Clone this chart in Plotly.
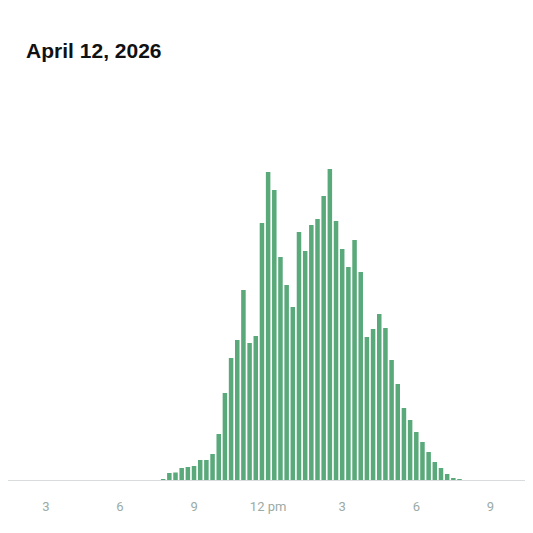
import pandas as pd
import plotly.graph_objects as go

# quarter-hour bins starting 7:45 am
start = "2026-04-12 07:45"
counts = [1, 7, 7.5, 12, 13, 14, 20, 20, 26, 46, 87, 122, 140, 190, 137, 144,
          257, 308, 290, 223, 195, 173, 248, 229, 255, 261, 284, 311, 259, 231,
          213, 240, 208, 143, 151, 166, 152, 120, 96, 72, 60, 48, 38, 28, 18,
          12, 6, 2, 0.5]
times = pd.date_range(start, periods=len(counts), freq="15min")

tick_vals = pd.to_datetime(["2026-04-12 03:00", "2026-04-12 06:00", "2026-04-12 09:00",
                            "2026-04-12 12:00", "2026-04-12 15:00", "2026-04-12 18:00",
                            "2026-04-12 21:00"])
tick_text = ["3", "6", "9", "12 pm", "3", "6", "9"]

fig = go.Figure(go.Bar(x=times, y=counts, marker_color="#59a97a",
                       marker_line_width=0))

fig.update_layout(
    width=533, height=533,
    margin=dict(l=0, r=0, t=100, b=61),
    plot_bgcolor="white", paper_bgcolor="white",
    bargap=0.27, showlegend=False,
    title=dict(text="<b>April 12, 2026</b>", x=0.034, xanchor="left",
               y=0.92, yanchor="middle",
               font=dict(family="Liberation Sans Narrow, Arial Narrow, sans-serif",
                         size=21, color="#111")),
)
fig.update_xaxes(
    range=[pd.Timestamp("2026-04-12 01:28"), pd.Timestamp("2026-04-12 23:03")],
    tickvals=tick_vals, ticktext=tick_text, showgrid=False,
    showline=True, linecolor="#d8dcdc", linewidth=1, ticks="",
    ticklabelstandoff=14,
    tickfont=dict(family="Roboto, sans-serif", size=13, color="#9aaba6"),
)
fig.update_yaxes(range=[0, 372], visible=False)

fig.write_html("out.html")
